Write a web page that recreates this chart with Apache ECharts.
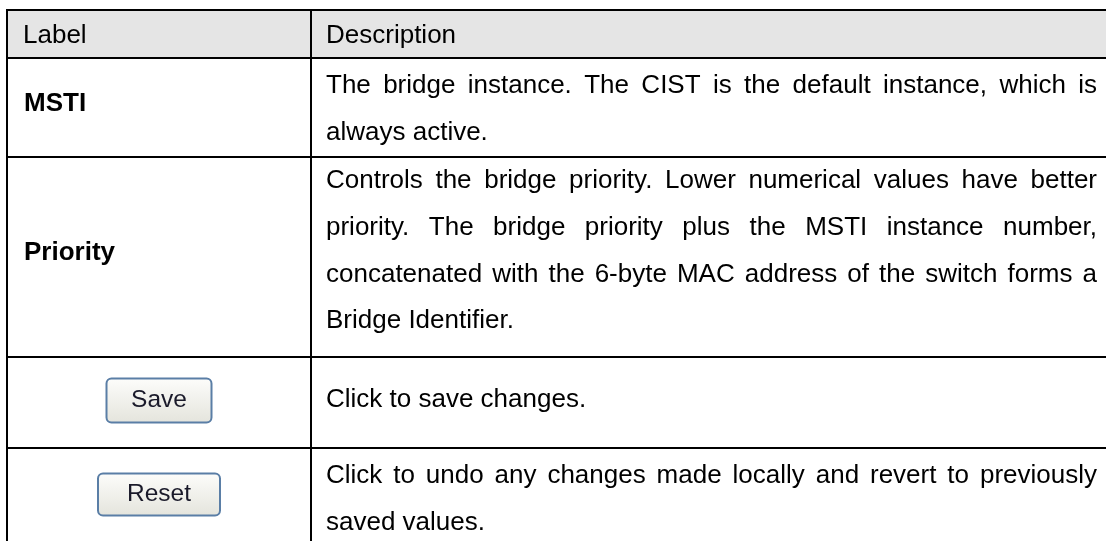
<!DOCTYPE html>
<html>
<head>
<meta charset="utf-8">
<script src="https://cdn.jsdelivr.net/npm/echarts@6/dist/echarts.min.js"></script>
<style>
html,body{margin:0;padding:0;background:#fff;}
#chart{width:1106px;height:541px;}
</style>
</head>
<body>
<div id="chart"></div>
<script>
// ---- Data (table content) ----
const headers = ["Label", "Description"];
const labels = ["MSTI", "Priority", "Save", "Reset"];
const labelKinds = ["bold", "bold", "button", "button"];
const descMSTI = [
  "The bridge instance. The CIST is the default instance, which is",
  "always active."
];
const descPriority = [
  "Controls the bridge priority. Lower numerical values have better",
  "priority. The bridge priority plus the MSTI instance number,",
  "concatenated with the 6-byte MAC address of the switch forms a",
  "Bridge Identifier."
];
const descSave = ["Click to save changes."];
const descReset = [
  "Click to undo any changes made locally and revert to previously",
  "saved values."
];
const descriptions = [descMSTI, descPriority, descSave, descReset];

// ---- Layout (styling, not data) ----
const FAMILY = "Liberation Sans";
const L = {
  left: 7, split: 311, right: 1115,
  rowEdges: [10, 58, 157, 357, 448, 545],
  textLeftLabel: 23, textLeftDesc: 326, textRightDesc: 1097,
  firstBaseline: [37, 33, null, 37],
  lineStep: 46.7,
  size: 26,
  btnSize: 24.5,
  btn: [{w: 105, h: 44}, {w: 122, h: 42}],
  midShift: 9,
  labelShift: -4
};

const cv = document.createElement('canvas').getContext('2d');
function tw(t, size, weight) { cv.font = (weight || 'normal') + ' ' + size + 'px "' + FAMILY + '"'; return cv.measureText(t).width; }

const chart = echarts.init(document.getElementById('chart'), null, {renderer: 'canvas'});

function textEl(x, y, t, size, weight, fill, align) {
  return {type: 'text', silent: true, style: {x: x, y: y, text: t, fontFamily: FAMILY, fontSize: size, fontWeight: weight || 'normal',
    fill: fill || '#000', align: align || 'left', verticalAlign: 'middle'}};
}

function renderRow(params, api) {
  const r = params.dataIndex;
  const y0 = L.rowEdges[r], y1 = L.rowEdges[r + 1];
  const p0 = api.coord([L.left, y0]);
  const p1 = api.coord([L.right, y1]);
  const ps = api.coord([L.split, y0]);
  const children = [];
  if (r === 0) {
    children.push({type: 'rect', shape: {x: p0[0], y: p0[1], width: p1[0] - p0[0], height: p1[1] - p0[1]}, style: {fill: '#e5e5e5'}});
    const b = api.coord([0, y0 + 35])[1] - L.midShift;
    children.push(textEl(api.coord([L.textLeftLabel, 0])[0], b, headers[0], L.size));
    children.push(textEl(api.coord([L.textLeftDesc, 0])[0], b, headers[1], L.size));
  } else {
    const i = r - 1;
    const lines = descriptions[i];
    const xL = api.coord([L.textLeftDesc, 0])[0];
    const xR = api.coord([L.textRightDesc, 0])[0];
    let base0;
    if (L.firstBaseline[i] == null) {
      base0 = (y0 + y1) / 2 + 6 - (lines.length - 1) * L.lineStep / 2;
    } else {
      base0 = y0 + L.firstBaseline[i];
    }
    lines.forEach(function (ln, k) {
      const yy = api.coord([0, base0 + k * L.lineStep])[1] - L.midShift;
      const justify = k < lines.length - 1;
      if (!justify) {
        children.push(textEl(xL, yy, ln, L.size));
      } else {
        const words = ln.split(' ');
        const ws = words.map(function (w) { return tw(w, L.size); });
        const tot = ws.reduce(function (a, b) { return a + b; }, 0);
        const gap = (xR - xL - tot) / (words.length - 1);
        let x = xL;
        words.forEach(function (w, j) {
          children.push(textEl(x, yy, w, L.size));
          x += ws[j] + gap;
        });
      }
    });
    const midY = api.coord([0, (y0 + y1) / 2])[1];
    if (labelKinds[i] === 'bold') {
      children.push(textEl(api.coord([L.textLeftLabel + 1, 0])[0], midY + L.labelShift, labels[i], L.size, 'bold'));
    } else {
      const bs = L.btn[i - 2];
      const cx = (api.coord([L.left, 0])[0] + ps[0]) / 2;
      children.push({type: 'rect', shape: {x: cx - bs.w / 2, y: midY - bs.h / 2 - 2, width: bs.w, height: bs.h, r: 5},
        style: {fill: new echarts.graphic.LinearGradient(0, 0, 0, 1, [{offset: 0, color: '#fdfdfb'}, {offset: 1, color: '#e4e4dc'}]),
          stroke: '#5a7ea6', lineWidth: 2}});
      children.push(textEl(cx, midY - 2, labels[i], L.btnSize, 'normal', '#1a1a2a', 'center'));
    }
  }
  const lc = {stroke: '#000', lineWidth: 2};
  children.push({type: 'line', shape: {x1: p0[0] - 1, y1: p0[1], x2: p1[0], y2: p0[1]}, style: lc});
  children.push({type: 'line', shape: {x1: p0[0] - 1, y1: p1[1], x2: p1[0], y2: p1[1]}, style: lc});
  children.push({type: 'line', shape: {x1: p0[0], y1: p0[1], x2: p0[0], y2: p1[1]}, style: lc});
  children.push({type: 'line', shape: {x1: ps[0], y1: p0[1], x2: ps[0], y2: p1[1]}, style: lc});
  return {type: 'group', children: children};
}

chart.setOption({
  backgroundColor: '#fff',
  animation: false,
  grid: {left: 0, right: 0, top: 0, bottom: 0},
  xAxis: {type: 'value', min: 0, max: 1106, show: false},
  yAxis: {type: 'value', min: 0, max: 541, inverse: true, show: false},
  series: [{
    type: 'custom',
    coordinateSystem: 'cartesian2d',
    clip: false,
    renderItem: renderRow,
    data: [0, 1, 2, 3, 4].map(function (i) { return [i, i]; })
  }]
});
</script>
</body>
</html>
